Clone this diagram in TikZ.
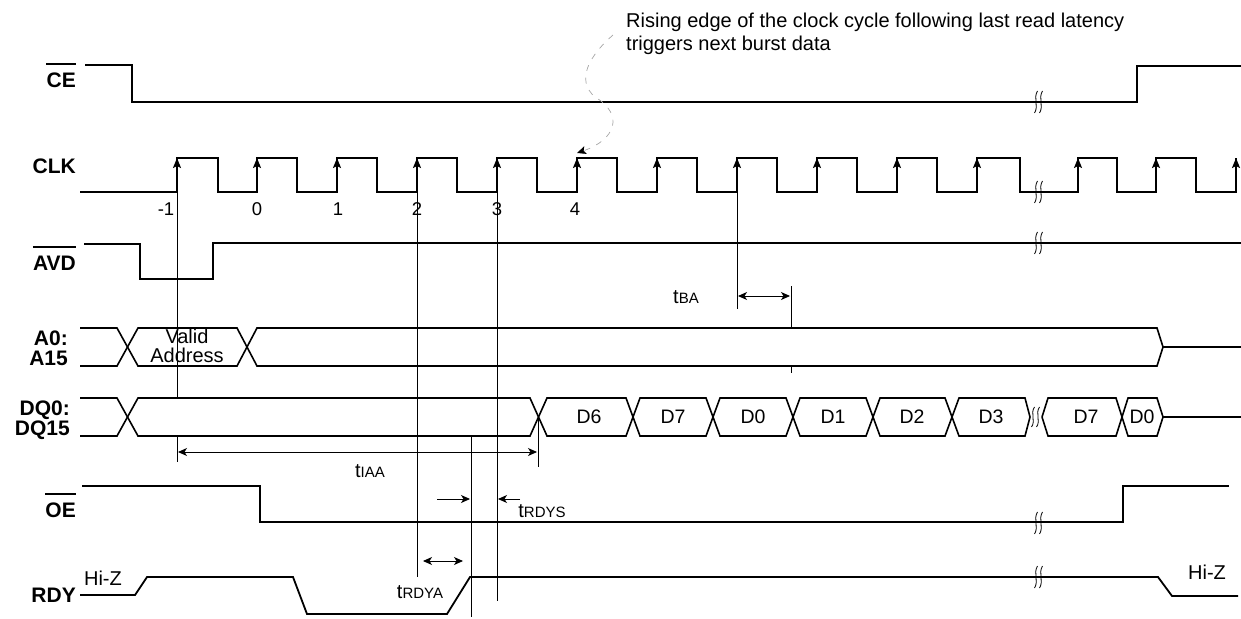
\documentclass[tikz,border=0pt]{standalone}
\usepackage{fontspec}
\setmainfont{Liberation Sans}
\usepackage{tikz}
\usetikzlibrary{arrows.meta}

\begin{document}
\begin{tikzpicture}[x=1pt, y=-1pt,
  sig/.style={line width=1.8pt},
  bus/.style={line width=1.6pt},
  guide/.style={line width=0.9pt},
  brk/.style={line width=0.8pt},
  clkedge/.style={sig, -{Stealth[length=10pt,width=8pt,inset=2pt]}},
  tarrow/.style={guide, {Stealth[length=9pt,width=8pt,inset=2.5pt]}-{Stealth[length=9pt,width=8pt,inset=2.5pt]}},
  tone/.style={guide, -{Stealth[length=9pt,width=8pt,inset=2.5pt]}},
  note/.style={draw=gray!70, line width=0.7pt, dash pattern=on 6pt off 7pt, -{Stealth[length=9pt,width=8pt,inset=2pt,black]}},
  sname/.style={font=\fontsize{21}{21}\selectfont\bfseries, inner sep=0pt, anchor=base east},
  txt/.style={font=\fontsize{20}{20}\selectfont, inner sep=0pt},
  dlabel/.style={font=\fontsize{19.5}{19.5}\selectfont, inner sep=0pt},
  cnum/.style={font=\fontsize{18.5}{18.5}\selectfont, inner sep=0pt, anchor=base},
  tlabel/.style={font=\fontsize{20}{20}\selectfont, inner sep=0pt, anchor=base}]
\useasboundingbox (0,0) rectangle (1241,618);

%%%%% Signal names %%%%%
\node[sname] (ce) at (76,87) {CE};
\node[sname] (clk) at (76,173) {CLK};
\node[sname] (avd) at (76,270) {AVD};
\node[sname] (a0) at (68,345) {A0:};
\node[sname] (a15) at (68,365) {A15};
\node[sname] (dq0) at (70,415) {DQ0:};
\node[sname] (dq15) at (70,435) {DQ15};
\node[sname] (oe) at (76,517) {OE};
\node[sname] (rdy) at (76,602) {RDY};
\draw[sig] ([yshift=8pt]ce.north west) -- ([yshift=8pt]ce.north east);
\draw[sig] ([yshift=8pt]avd.north west) -- ([yshift=8pt]avd.north east);
\draw[sig] ([yshift=8pt]oe.north west) -- ([yshift=8pt]oe.north east);

%%%%% CE %%%%%
\draw[sig] (85,65) -- (132,65) -- (132,102) -- (1137,102) -- (1137,66) -- (1241,66);

%%%%% CLK %%%%%
\draw[sig] (80,192) -- (177,192) -- (177,158) -- (218,158) -- (218,192) -- (257,192) -- (257,158)
  -- (297,158) -- (297,192) -- (337,192) -- (337,158) -- (377,158) -- (377,192) -- (417,192)
  -- (417,158) -- (457,158) -- (457,192) -- (497,192) -- (497,158) -- (537,158) -- (537,192)
  -- (577,192) -- (577,158) -- (617,158) -- (617,192) -- (657,192) -- (657,158) -- (697,158)
  -- (697,192) -- (737,192) -- (737,158) -- (777,158) -- (777,192) -- (817,192) -- (817,158)
  -- (857,158) -- (857,192) -- (897,192) -- (897,158) -- (937,158) -- (937,192) -- (977,192)
  -- (977,158) -- (1020,158) -- (1020,192) -- (1078,192) -- (1078,158) -- (1117,158)
  -- (1117,192) -- (1156,192) -- (1156,158) -- (1196,158) -- (1196,192) -- (1236,192) -- (1236,158);
\draw[clkedge] (177,192) -- (177,158);
\draw[clkedge] (257,192) -- (257,158);
\draw[clkedge] (337,192) -- (337,158);
\draw[clkedge] (417,192) -- (417,158);
\draw[clkedge] (497,192) -- (497,158);
\draw[clkedge] (577,192) -- (577,158);
\draw[clkedge] (657,192) -- (657,158);
\draw[clkedge] (737,192) -- (737,158);
\draw[clkedge] (817,192) -- (817,158);
\draw[clkedge] (897,192) -- (897,158);
\draw[clkedge] (977,192) -- (977,158);
\draw[clkedge] (1078,192) -- (1078,158);
\draw[clkedge] (1156,192) -- (1156,158);
\draw[clkedge] (1236,192) -- (1236,158);
\node[cnum] (n1) at (166,215) {-1};
\node[cnum] (n2) at (257,215) {0};
\node[cnum] (n3) at (338,215) {1};
\node[cnum] (n4) at (417,215) {2};
\node[cnum] (n5) at (497,215) {3};
\node[cnum] (n6) at (575,215) {4};

%%%%% AVD %%%%%
\draw[sig] (84,244) -- (140,244) -- (140,279) -- (213,279) -- (213,243) -- (1241,243);

%%%%% A0:A15 %%%%%
\draw[bus] (80,328) -- (117,328) -- (138,366) -- (237,366) -- (257,328) -- (1157,328) -- (1163,347) -- (1241,347);
\draw[bus] (80,366) -- (117,366) -- (138,328) -- (237,328) -- (257,366) -- (1157,366) -- (1163,347);
\node[txt, anchor=base] (valid) at (187,343) {Valid};
\node[txt, anchor=base] (addr) at (187,362) {Address};

%%%%% DQ0:DQ15 %%%%%
\draw[bus] (80,398) -- (117,398) -- (138,436) -- (530,436) -- (547,398) -- (626,398) -- (640,436)
  -- (706,436) -- (720,398) -- (786,398) -- (800,436) -- (866,436) -- (880,398) -- (945,398)
  -- (959,436) -- (1025,436) -- (1030,417);
\draw[bus] (80,436) -- (117,436) -- (138,398) -- (530,398) -- (547,436) -- (626,436) -- (640,398)
  -- (706,398) -- (720,436) -- (786,436) -- (800,398) -- (866,398) -- (880,436) -- (945,436)
  -- (959,398) -- (1025,398) -- (1030,417);
\draw[bus] (1042,417) -- (1048,398) -- (1116,398) -- (1128,436) -- (1157,436) -- (1163,417) -- (1241,417);
\draw[bus] (1042,417) -- (1048,436) -- (1116,436) -- (1128,398) -- (1157,398) -- (1163,417);
\node[dlabel] (d6) at (589,417) {D6};
\node[dlabel] (d7) at (673,417) {D7};
\node[dlabel] (d0) at (753,417) {D0};
\node[dlabel] (d1) at (833,417) {D1};
\node[dlabel] (d2) at (912,417) {D2};
\node[dlabel] (d3) at (991,417) {D3};
\node[dlabel] (d7b) at (1086,417) {D7};
\node[dlabel] (d0b) at (1142,417) {D0};

%%%%% OE %%%%%
\draw[sig] (82,486) -- (260,486) -- (260,522) -- (1123,522) -- (1123,486) -- (1229,486);

%%%%% RDY %%%%%
\draw[sig] (80,595) -- (135,595) -- (147,577) -- (293,577) -- (307,614) -- (447,614) -- (470,577)
  -- (1158,577) -- (1172,596) -- (1238,596);
\node[txt, anchor=base] (hiz1) at (103,585) {Hi-Z};
\node[txt, anchor=base] (hiz2) at (1207,579) {Hi-Z};

%%%%% Breaks %%%%%
\draw[brk, shift={(1036,102)}] (1.5,-11) .. controls (-3,-4) and (3,4) .. (-1.5,11)
  (6.5,-11) .. controls (2,-4) and (8,4) .. (3.5,11);
\draw[brk, shift={(1036,192)}] (1.5,-11) .. controls (-3,-4) and (3,4) .. (-1.5,11)
  (6.5,-11) .. controls (2,-4) and (8,4) .. (3.5,11);
\draw[brk, shift={(1036,243)}] (1.5,-11) .. controls (-3,-4) and (3,4) .. (-1.5,11)
  (6.5,-11) .. controls (2,-4) and (8,4) .. (3.5,11);
\draw[brk, shift={(1033,417)}] (1.5,-10) .. controls (-3,-4) and (3,4) .. (-1.5,10)
  (6.5,-10) .. controls (2,-4) and (8,4) .. (3.5,10);
\draw[brk, shift={(1036,523)}] (1.5,-11) .. controls (-3,-4) and (3,4) .. (-1.5,11)
  (6.5,-11) .. controls (2,-4) and (8,4) .. (3.5,11);
\draw[brk, shift={(1036,577)}] (1.5,-11) .. controls (-3,-4) and (3,4) .. (-1.5,11)
  (6.5,-11) .. controls (2,-4) and (8,4) .. (3.5,11);

%%%%% Timing lines %%%%%
\draw[guide] (177,192) -- (177,398);
\draw[guide] (177,436) -- (177,462);
\draw[guide] (417,192) -- (417,577);
\draw[guide] (497,192) -- (497,601);
\draw[guide] (471,436) -- (471,617);
\draw[guide] (538,417) -- (538,467);
\draw[guide] (737,192) -- (737,309);
\draw[guide] (791,286) -- (791,328);
\draw[guide] (791,366) -- (791,373);

%%%%% Timing arrows %%%%%
\draw[tarrow] (178,452) -- (537,452);
\node[tlabel] (tiaa) at (370,477) {t{\fontsize{15}{15}\selectfont IAA}};
\draw[tarrow] (738,296) -- (790,296);
\node[tlabel] (tba) at (686,303) {t{\fontsize{15}{15}\selectfont BA}};
\draw[tone] (437,499) -- (470,499);
\draw[tone] (520,499) -- (498,499);
\node[tlabel] (trdys) at (542,517) {t{\fontsize{15}{15}\selectfont RDYS}};
\draw[tarrow] (423,561) -- (463,561);
\node[tlabel] (trdya) at (420,598) {t{\fontsize{15}{15}\selectfont RDYA}};

%%%%% Note %%%%%
\node[txt, anchor=base west] (note1) at (626,28) {Rising edge of the clock cycle following last read latency};
\node[txt, anchor=base west] (note2) at (626,51) {triggers next burst data};
\coordinate (tip) at (577,153);
\draw[note] (613,35) .. controls (590,55) and (575,80) .. (595,97) .. controls (625,115) and (615,140) .. (tip);
\end{tikzpicture}
\end{document}
